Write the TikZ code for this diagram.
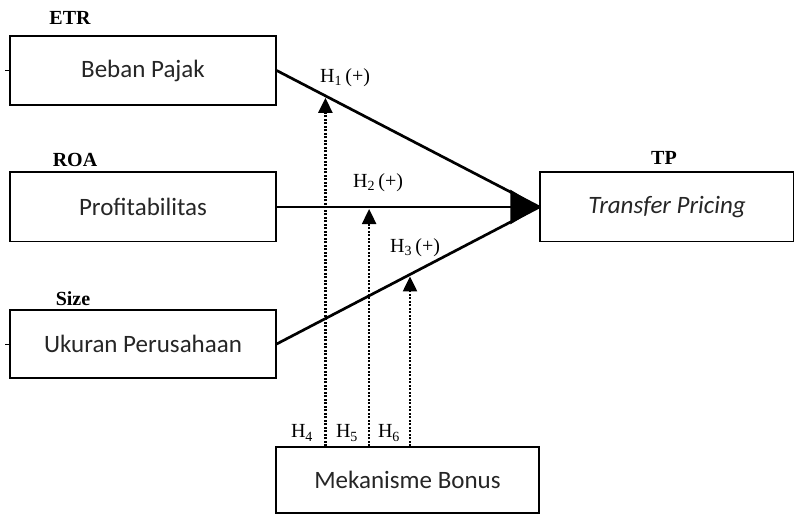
\documentclass[tikz,border=0pt]{standalone}
\usepackage{fontspec}
\setmainfont{Liberation Serif}
\newfontfamily\boxfont{Carlito}
\usetikzlibrary{arrows.meta}
\tikzset{
  varbox/.style={draw, line width=1.3pt, rectangle, inner sep=0pt, font=\boxfont\fontsize{25}{28}\selectfont, text=black!85},
  toplbl/.style={font=\bfseries\fontsize{20}{23}\selectfont, inner sep=0pt},
  hlbl/.style={font=\fontsize{20}{23}\selectfont, inner sep=0pt},
  mainline/.style={line width=2.7pt},
  dotarrow/.style={line width=2.4pt, dash pattern=on 2pt off 1.5pt, -{Triangle[length=15pt,width=14pt]}},
}
\begin{document}
\begin{tikzpicture}[x=1pt,y=-1pt]
\useasboundingbox (0,0) rectangle (794,516);
\fill[white] (0,0) rectangle (794,516);
% boxes
\node[varbox, minimum width=266pt, minimum height=69pt] (beban) at (143,70.5) {Beban Pajak};
\node[varbox, minimum width=266pt, minimum height=69pt] (profit) at (143,207) {Profitabilitas};
\node[varbox, minimum width=266pt, minimum height=68pt] (ukuran) at (143,344) {Ukuran Perusahaan};
\node[varbox, minimum width=254pt, minimum height=69pt] (tp) at (667,207) {\itshape Transfer Pricing};
\node[varbox, minimum width=263pt, minimum height=66pt] (bonus) at (407.5,480) {Mekanisme Bonus};
% thicker top edges
\draw[line width=2.6pt] (profit.north west) -- (profit.north east);
\draw[line width=2.6pt] (tp.north west) -- (tp.north east);
% small left ticks
\draw[line width=1pt] (beban.west) -- ++(-4,0);
\draw[line width=1pt] (ukuran.west) -- ++(-4,0);
% top labels
\node[toplbl] (etr) at (70,18) {ETR};
\node[toplbl] (roa) at (75,160) {ROA};
\node[toplbl] (size) at (73,299) {Size};
\node[toplbl] (tplbl) at (664,158) {TP};
% main connectors
\draw[mainline] (beban.east) -- (tp.west);
\draw[mainline] (ukuran.east) -- (tp.west);
\draw[mainline, -{Triangle[length=29pt,width=34pt]}] (profit.east) -- (tp.west);
% moderation points
\path (beban.east) -- (tp.west) coordinate[pos=0.1856] (d1);
\path (profit.east) -- (tp.west) coordinate[pos=0.352] (d2);
\path (ukuran.east) -- (tp.west) coordinate[pos=0.5076] (d3);
\draw[dotarrow] (bonus.north -| d1) -- ([yshift=-2pt]d1);
\draw[dotarrow] (bonus.north -| d2) -- ([yshift=-2pt]d2);
\draw[dotarrow] (bonus.north -| d3) -- ([yshift=-2pt]d3);
% hypothesis labels
\node[hlbl] (h1) at (345,78) {H\textsubscript{1}\,(+)};
\node[hlbl] (h2) at (378,183) {H\textsubscript{2}\,(+)};
\node[hlbl] (h3) at (415,248) {H\textsubscript{3}\,(+)};
\node[hlbl] (h4) at (302,433) {H\textsubscript{4}};
\node[hlbl] (h5) at (347,433) {H\textsubscript{5}};
\node[hlbl] (h6) at (389,433) {H\textsubscript{6}};
\end{tikzpicture}
\end{document}
